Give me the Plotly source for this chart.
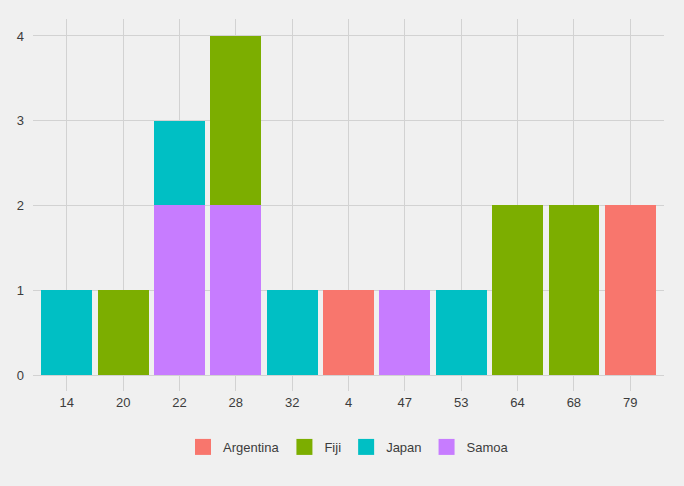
import plotly.graph_objects as go

# Données.
categories = ['14', '20', '22', '28', '32', '4', '47', '53', '64', '68', '79']
samoa = [0, 0, 2, 2, 0, 0, 1, 0, 0, 0, 0]
japan = [1, 0, 1, 0, 1, 0, 0, 1, 0, 0, 0]
fiji = [0, 1, 0, 2, 0, 0, 0, 0, 2, 2, 0]
argentina = [0, 0, 0, 0, 0, 1, 0, 0, 0, 0, 2]

series = [
    ('Samoa', samoa, '#C77CFF'),
    ('Japan', japan, '#00BFC4'),
    ('Fiji', fiji, '#7CAE00'),
    ('Argentina', argentina, '#F8766D'),
]

fig = go.Figure()
for name, values, color in series:  # Empilement : Samoa en bas, Argentina en haut.
    fig.add_trace(go.Bar(
        x=categories,
        y=values,
        name=name,
        marker_color=color,
        marker_line_width=0,
        showlegend=False,
    ))

# Légende avec de grands carrés (comme ggplot).
for name, values, color in reversed(series):
    fig.add_trace(go.Scatter(
        x=[None],
        y=[None],
        mode='markers',
        name=name,
        marker=dict(symbol='square', size=21, color=color),
    ))

grid = '#D2D2D2'
fig.update_layout(
    barmode='stack',
    bargap=0.1,
    width=684,
    height=486,
    margin=dict(l=33, r=20, t=19, b=111),
    paper_bgcolor='#F0F0F0',
    plot_bgcolor='#F0F0F0',
    font=dict(family='Liberation Sans, Arial, sans-serif', size=13, color='#3C3C3C'),
    showlegend=True,
    legend=dict(
        orientation='h',
        traceorder='normal',
        itemsizing='trace',
        x=0.5,
        xanchor='center',
        y=-0.16,
        yanchor='top',
        font=dict(size=13, color='#3C3C3C'),
        bgcolor='rgba(0,0,0,0)',
    ),
)

fig.update_xaxes(
    type='category',
    range=[-0.6, 10.6],
    showgrid=True,
    gridcolor=grid,
    gridwidth=1,
    ticks='outside',
    ticklen=15,
    tickcolor=grid,
    tickwidth=1,
    showline=False,
    zeroline=False,
)
fig.update_yaxes(
    range=[0, 4.2],
    dtick=1,
    showgrid=True,
    gridcolor=grid,
    gridwidth=1,
    zeroline=True,
    zerolinecolor=grid,
    zerolinewidth=1,
    ticks='',
    ticklabelstandoff=8,
)

fig.write_html('out.html', config={'displayModeBar': False},
               post_script="document.body.style.margin='0';")
